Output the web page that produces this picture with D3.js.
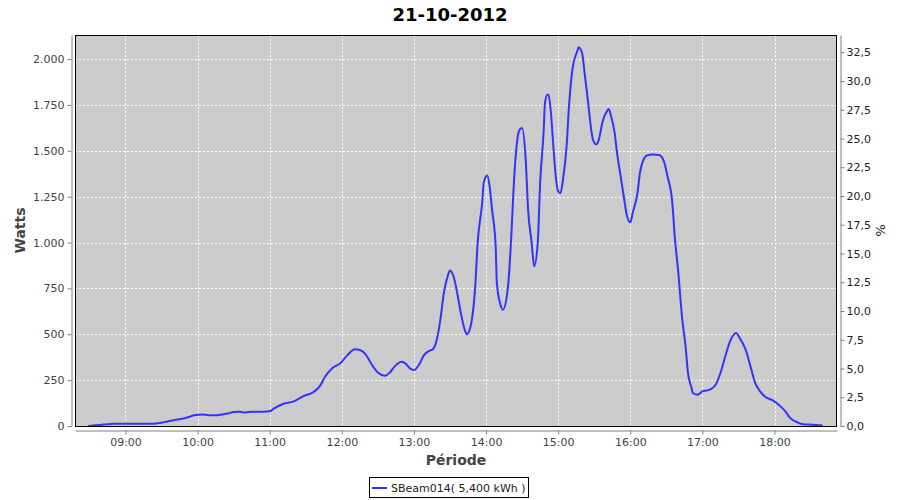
<!DOCTYPE html>
<html>
<head>
<meta charset="utf-8">
<script src="https://cdn.jsdelivr.net/npm/d3@7"></script>
<style>
  html, body { margin: 0; padding: 0; background: #fff; }
  svg { display: block; font-family: "DejaVu Sans", sans-serif; }
</style>
</head>
<body>
<svg id="chart" width="900" height="500"></svg>
<script>
// ---- data ----
const chartTitle = "21-10-2012";
const seriesName = "SBeam014( 5,400 kWh )";
const times = ["08:29","08:33","08:38","08:42","08:46","08:50","09:00","09:10","09:20","09:24","09:26","09:30","09:35","09:41","09:46","09:50","09:54","09:58","10:05","10:10","10:15","10:20","10:25","10:30","10:35","10:40","10:45","10:55","11:00","11:03","11:11","11:20","11:28","11:36","11:42","11:46","11:52","11:59","12:05","12:11","12:15","12:21","12:25","12:30","12:36","12:40","12:44","12:50","12:54","12:57","13:00","13:05","13:08","13:12","13:16","13:19","13:22","13:25","13:28","13:30","13:33","13:36","13:39","13:42","13:44","13:47","13:51","13:53","13:57","13:58","14:01","14:03","14:05","14:08","14:09","14:12","14:14","14:18","14:21","14:23","14:26","14:28","14:30","14:33","14:35","14:38","14:40","14:43","14:45","14:48","14:49","14:51","14:52","14:54","14:56","14:58","15:00","15:02","15:04","15:07","15:09","15:12","15:16","15:17","15:20","15:22","15:25","15:27","15:29","15:32","15:34","15:37","15:41","15:42","15:44","15:47","15:49","15:52","15:55","15:57","16:00","16:02","16:06","16:08","16:11","16:14","16:19","16:24","16:28","16:31","16:35","16:37","16:40","16:43","16:46","16:48","16:51","16:52","16:56","17:00","17:04","17:06","17:11","17:15","17:19","17:23","17:28","17:31","17:36","17:40","17:44","17:48","17:52","17:59","18:05","18:09","18:13","18:19","18:24","18:31","18:40"];
const watts = [0,3,5,8,10,12,12,12,12,12,15,18,25,33,38,44,52,60,62,58,58,63,68,76,77,74,78,78,80,93,120,134,163,183,220,268,315,343,389,418,414,379,334,292,274,292,325,350,334,312,305,343,383,407,420,470,580,730,815,848,815,725,616,530,500,540,761,997,1233,1324,1365,1306,1179,979,779,661,634,743,1033,1306,1560,1615,1624,1451,1179,997,870,997,1324,1615,1760,1806,1806,1706,1524,1360,1279,1270,1342,1524,1742,1950,2045,2064,2030,1924,1760,1640,1560,1535,1565,1660,1720,1728,1690,1597,1488,1360,1233,1152,1110,1161,1270,1379,1451,1475,1480,1477,1442,1360,1215,1033,834,597,434,289,207,180,171,189,194,198,225,289,379,461,507,480,416,325,234,189,161,138,107,80,44,20,9,7,3];
const xTickLabels = ["09:00","10:00","11:00","12:00","13:00","14:00","15:00","16:00","17:00","18:00"];
const leftTicks = [0,250,500,750,1000,1250,1500,1750,2000];
const rightTicks = [0,2.5,5,7.5,10,12.5,15,17.5,20,22.5,25,27.5,30,32.5];
const xDomain = ["08:18","18:52"];
const leftMax = 2131;
const rightMax = 34.0;

// ---- helpers ----
const toMin = s => { const [h, m] = s.split(":").map(Number); return h * 60 + m; };
const loc = d3.formatLocale({ decimal: ",", thousands: ".", grouping: [3], currency: ["", ""] });
const fmtLeft = loc.format(",d");
const fmtRight = loc.format(".1f");

const svg = d3.select("#chart");
const P = { left: 75, top: 35, right: 837, bottom: 426 };

const x = d3.scaleLinear().domain(xDomain.map(toMin)).range([P.left, P.right]);
const yL = d3.scaleLinear().domain([0, leftMax]).range([P.bottom, P.top]);
const yR = d3.scaleLinear().domain([0, rightMax]).range([P.bottom, P.top]);

// title
svg.append("text").attr("x", 450).attr("y", 21).attr("text-anchor", "middle")
  .attr("font-size", 18).attr("font-weight", "bold").attr("fill", "#000").text(chartTitle);

// plot background
svg.append("rect").attr("x", P.left).attr("y", P.top)
  .attr("width", P.right - P.left).attr("height", P.bottom - P.top).attr("fill", "#cccccc");

// grid
const grid = svg.append("g").attr("stroke", "#fff").attr("stroke-width", 1).attr("stroke-dasharray", "2,2");
grid.selectAll("line.v").data(xTickLabels).join("line")
  .attr("x1", d => Math.round(x(toMin(d))) + 0.5).attr("x2", d => Math.round(x(toMin(d))) + 0.5)
  .attr("y1", P.top).attr("y2", P.bottom);
grid.selectAll("line.h").data(leftTicks.slice(1)).join("line")
  .attr("x1", P.left).attr("x2", P.right)
  .attr("y1", d => Math.round(yL(d)) + 0.5).attr("y2", d => Math.round(yL(d)) + 0.5);

// clip
svg.append("clipPath").attr("id", "clip").append("rect")
  .attr("x", P.left).attr("y", P.top).attr("width", P.right - P.left).attr("height", P.bottom - P.top);

// line
const data = times.map((t, i) => ({ t: toMin(t), v: watts[i] }));
const line = d3.line().x(d => x(d.t)).y(d => yL(d.v)).curve(d3.curveMonotoneX);
svg.append("path").datum(data).attr("clip-path", "url(#clip)")
  .attr("fill", "none").attr("stroke", "#3333ff").attr("stroke-width", 2)
  .attr("stroke-linejoin", "round").attr("d", line);

// plot border
svg.append("rect").attr("x", P.left + 0.5).attr("y", P.top + 0.5)
  .attr("width", P.right - P.left - 1).attr("height", P.bottom - P.top)
  .attr("fill", "none").attr("stroke", "#000").attr("stroke-width", 1);

// axes
const axisStyle = g => {
  g.select(".domain").attr("stroke", "#808080");
  g.selectAll(".tick line").attr("stroke", "#808080");
  g.selectAll(".tick text").attr("font-family", "DejaVu Sans, sans-serif").attr("font-size", 11).attr("fill", "#444");
};
svg.append("g").attr("transform", `translate(${P.left - 4 + 0.5},0)`)
  .call(d3.axisLeft(yL).tickValues(leftTicks).tickFormat(fmtLeft).tickSizeInner(4).tickSizeOuter(0).tickPadding(3))
  .call(axisStyle);
svg.append("g").attr("transform", `translate(${P.right + 4 - 0.5},0)`)
  .call(d3.axisRight(yR).tickValues(rightTicks).tickFormat(fmtRight).tickSizeInner(4).tickSizeOuter(0).tickPadding(2))
  .call(axisStyle)
  .call(g => g.selectAll(".tick text").attr("fill", "#222"));
svg.append("g").attr("transform", `translate(0,${P.bottom + 4 + 0.5})`)
  .call(d3.axisBottom(x).tickValues(xTickLabels.map(toMin)).tickFormat((d, i) => xTickLabels[i]).tickSizeInner(4).tickSizeOuter(0).tickPadding(4))
  .call(axisStyle);

// axis labels
svg.append("text").attr("transform", `translate(25,${(P.top + P.bottom) / 2}) rotate(-90)`)
  .attr("text-anchor", "middle").attr("font-size", 14).attr("font-weight", "bold").attr("fill", "#444").text("Watts");
svg.append("text").attr("transform", `translate(876,${(P.top + P.bottom) / 2}) rotate(90)`)
  .attr("text-anchor", "middle").attr("font-size", 13).attr("fill", "#222").text("%");
svg.append("text").attr("x", (P.left + P.right) / 2).attr("y", 465)
  .attr("text-anchor", "middle").attr("font-size", 14).attr("font-weight", "bold").attr("fill", "#444").text("Période");

// legend
const lg = svg.append("g");
lg.append("rect").attr("x", 369.5).attr("y", 477.5).attr("width", 159).attr("height", 20)
  .attr("fill", "#fff").attr("stroke", "#000");
lg.append("line").attr("x1", 372).attr("x2", 387).attr("y1", 488).attr("y2", 488)
  .attr("stroke", "#3333ff").attr("stroke-width", 2);
lg.append("text").attr("x", 391).attr("y", 492).attr("font-size", 11).attr("fill", "#222").text(seriesName);
</script>
</body>
</html>
